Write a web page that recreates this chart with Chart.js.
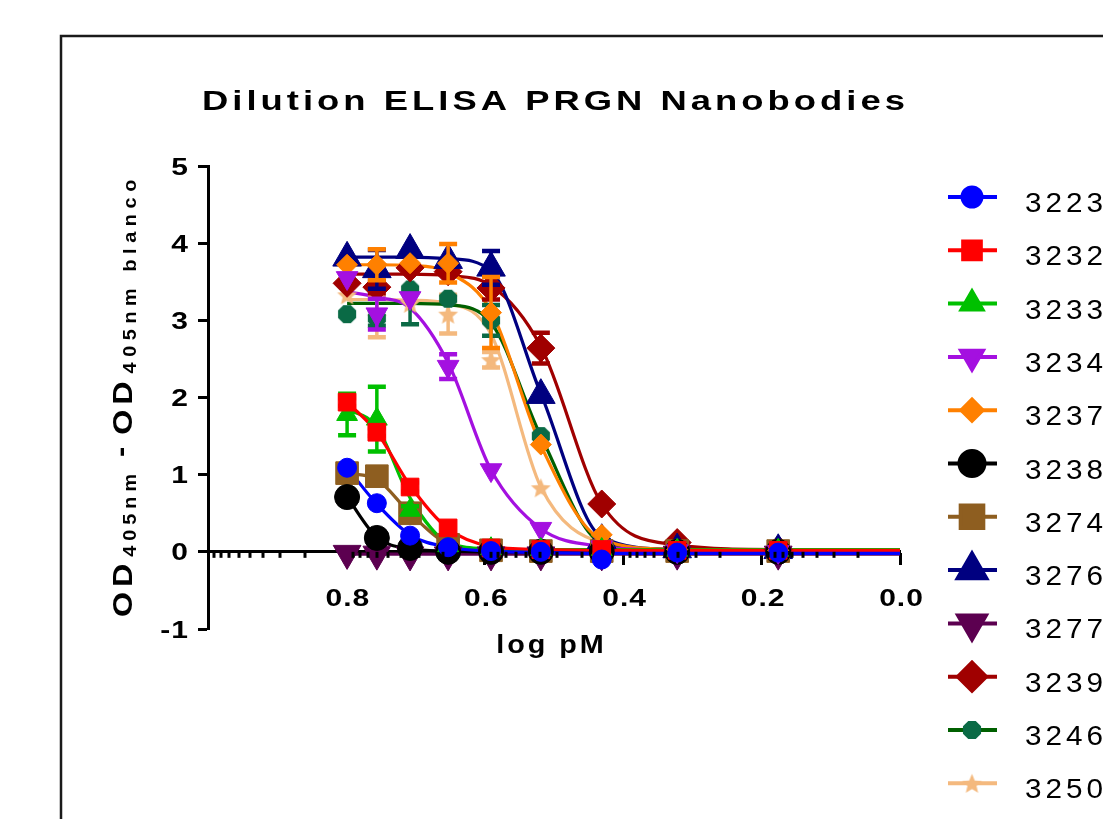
<!DOCTYPE html>
<html><head><meta charset="utf-8">
<script src="https://cdn.jsdelivr.net/npm/chart.js@4.4.0/dist/chart.umd.min.js"></script>
<style>html,body{margin:0;padding:0;background:#fff;overflow:hidden}canvas{display:block}</style>
</head><body>
<canvas id="c" width="1103" height="819"></canvas>
<script>
// ---------------- DATA ----------------
const logConc = [0.799, 0.756, 0.708, 0.653, 0.591, 0.519, 0.431, 0.322, 0.176];
const fitX    = [0.799, 0.756, 0.708, 0.653, 0.591, 0.519, 0.431, 0.322, 0.176, 0.0];
const seriesNames = ['3223','3232','3233','3234','3237','3238','3274','3276','3277','3239','3246','3250'];

const od3223 = [1.09, 0.63, 0.21, 0.06, 0.01, 0.00, -0.10, -0.01, -0.01];
const od3232 = [1.94, 1.55, 0.84, 0.31, 0.05, 0.03, 0.03, 0.02, 0.02];
const od3233 = [1.78, 1.72, 0.54, 0.08, 0.04, 0.03, 0.03, 0.02, 0.02];
const od3234 = [3.55, 3.08, 3.29, 2.40, 1.06, 0.30, 0.06, 0.01, 0.00];
const od3237 = [3.72, 3.72, 3.74, 3.74, 3.10, 1.39, 0.22, 0.03, 0.02];
const od3238 = [0.71, 0.18, 0.05, 0.00, 0.00, 0.00, 0.00, 0.00, 0.00];
const od3274 = [1.02, 0.98, 0.50, 0.09, 0.02, 0.01, 0.01, 0.01, 0.01];
const od3276 = [3.81, 3.66, 3.91, 3.78, 3.68, 2.03, 0.15, 0.03, 0.02];
const od3277 = [-0.02, -0.03, -0.04, -0.04, -0.04, -0.04, -0.04, -0.03, -0.03];
const od3239 = [3.48, 3.43, 3.68, 3.63, 3.42, 2.64, 0.62, 0.12, 0.03];
const od3246 = [3.08, 3.03, 3.40, 3.28, 3.00, 1.50, 0.05, 0.02, 0.02];
const od3250 = [3.33, 3.04, 3.22, 3.08, 2.49, 0.83, 0.06, 0.02, 0.02];

const sd3223 = [0, 0, 0, 0, 0, 0, 0, 0, 0];
const sd3232 = [0.05, 0.05, 0.06, 0, 0, 0, 0, 0, 0];
const sd3233 = [0.27, 0.42, 0.05, 0, 0, 0, 0, 0, 0];
const sd3234 = [0, 0.20, 0, 0.16, 0, 0, 0, 0, 0];
const sd3237 = [0, 0.20, 0, 0.25, 0.46, 0, 0, 0, 0];
const sd3238 = [0, 0, 0, 0, 0, 0, 0, 0, 0];
const sd3274 = [0, 0, 0, 0, 0, 0, 0, 0, 0];
const sd3276 = [0, 0.25, 0, 0, 0.22, 0, 0, 0, 0];
const sd3277 = [0, 0, 0, 0, 0, 0, 0, 0, 0];
const sd3239 = [0, 0.08, 0, 0, 0.15, 0.20, 0, 0, 0];
const sd3246 = [0, 0.10, 0.45, 0, 0.20, 0, 0, 0, 0];
const sd3250 = [0, 0.26, 0, 0.25, 0.10, 0, 0, 0, 0];

const fit3223 = [1.09, 0.62, 0.22, 0.06, 0.01, -0.01, -0.02, -0.02, -0.02, -0.02];
const fit3232 = [1.94, 1.55, 0.86, 0.30, 0.07, 0.03, 0.02, 0.02, 0.02, 0.02];
const fit3233 = [1.85, 1.62, 0.70, 0.12, 0.04, 0.03, 0.03, 0.03, 0.03, 0.03];
const fit3234 = [3.37, 3.30, 3.16, 2.45, 1.06, 0.30, 0.07, 0.02, 0.01, 0.01];
const fit3237 = [3.72, 3.72, 3.71, 3.62, 3.12, 1.38, 0.16, 0.03, 0.02, 0.02];
const fit3238 = [0.71, 0.19, 0.04, 0.01, 0.00, 0.00, 0.00, 0.00, 0.00, 0.00];
const fit3274 = [1.02, 0.94, 0.50, 0.10, 0.02, 0.01, 0.01, 0.01, 0.01, 0.01];
const fit3276 = [3.82, 3.82, 3.82, 3.80, 3.64, 2.05, 0.19, 0.03, 0.02, 0.02];
const fit3277 = [-0.03, -0.03, -0.03, -0.03, -0.03, -0.03, -0.03, -0.03, -0.03, -0.03];
const fit3239 = [3.60, 3.60, 3.60, 3.58, 3.45, 2.66, 0.62, 0.09, 0.03, 0.03];
const fit3246 = [3.22, 3.22, 3.22, 3.20, 2.97, 1.50, 0.12, 0.03, 0.02, 0.03];
const fit3250 = [3.27, 3.27, 3.26, 3.22, 2.82, 0.84, 0.12, 0.03, 0.02, 0.02];

const xMajorTicks = [1.0, 0.8, 0.6, 0.4, 0.2, 0.0];
const xTickLabels = ['', '0.8', '0.6', '0.4', '0.2', '0.0'];
const yTicks = [-1, 0, 1, 2, 3, 4, 5];
const yTickLabels = ['-1', '0', '1', '2', '3', '4', '5'];

const titleText = 'Dilution ELISA PRGN Nanobodies';
const xTitleText = 'log pM';

// ---------------- STYLES ----------------
const FONT = '"Liberation Sans", Arial, Helvetica, sans-serif';
function octagon(r, color){const c=document.createElement('canvas');const s=Math.ceil(2*r+2);c.width=c.height=s;const g=c.getContext('2d');g.fillStyle=color;g.beginPath();for(let i=0;i<8;i++){const a=Math.PI/8+i*Math.PI/4;const x=s/2+r*Math.cos(a),y=s/2+r*Math.sin(a);i?g.lineTo(x,y):g.moveTo(x,y);}g.closePath();g.fill();return c;}
function star(r, color){const c=document.createElement('canvas');const s=Math.ceil(2*r+2);c.width=c.height=s;const g=c.getContext('2d');g.fillStyle=color;g.beginPath();for(let i=0;i<10;i++){const a=-Math.PI/2+i*Math.PI/5;const rr=i%2?r*0.45:r;const x=s/2+rr*Math.cos(a),y=s/2+1+rr*Math.sin(a);i?g.lineTo(x,y):g.moveTo(x,y);}g.closePath();g.fill();return c;}

const styles = [
  {mark:'#0000FF', line:'#0000FF', shape:'circle',   rot:0,   r:9.5},
  {mark:'#FF0000', line:'#FF0000', shape:'rect',     rot:0,   r:12.5},
  {mark:'#00C000', line:'#00C000', shape:'triangle', rot:0,   r:12},
  {mark:'#A410E0', line:'#A410E0', shape:'triangle', rot:180, r:12.5},
  {mark:'#FF8000', line:'#FF8000', shape:'rectRot',  rot:0,   r:10.5},
  {mark:'#000000', line:'#000000', shape:'circle',   rot:0,   r:12.5},
  {mark:'#8E5E20', line:'#8E5E20', shape:'rect',     rot:0,   r:16},
  {mark:'#000080', line:'#000080', shape:'triangle', rot:0,   r:16.5},
  {mark:'#5C0050', line:'#5C0050', shape:'triangle', rot:180, r:16},
  {mark:'#A00000', line:'#A00000', shape:'rectRot',  rot:0,   r:14},
  {mark:'#0A6A45', line:'#006000', shape:'octagon',  rot:0,   r:9.8},
  {mark:'#F4B97E', line:'#F4B97E', shape:'star',     rot:0,   r:10.5}
];
styles.forEach(s=>{ if(s.shape==='octagon') s.shape=octagon(s.r,s.mark); else if(s.shape==='star') s.shape=star(s.r,s.mark); });

const odList  = [od3223,od3232,od3233,od3234,od3237,od3238,od3274,od3276,od3277,od3239,od3246,od3250];
const sdList  = [sd3223,sd3232,sd3233,sd3234,sd3237,sd3238,sd3274,sd3276,sd3277,sd3239,sd3246,sd3250];
const fitList = [fit3223,fit3232,fit3233,fit3234,fit3237,fit3238,fit3274,fit3276,fit3277,fit3239,fit3246,fit3250];

const datasets = [];
seriesNames.forEach((n,i)=>{
  const st = styles[i];
  datasets.push({
    label: n, type:'scatter', showLine:false,
    data: logConc.map((x,k)=>({x, y: odList[i][k]})),
    errors: sdList[i], errColor: st.mark,
    pointStyle: st.shape, rotation: st.rot, pointRotation: st.rot, pointRadius: st.r, pointHoverRadius: st.r,
    pointBackgroundColor: st.mark, pointBorderColor: st.mark, pointBorderWidth: 1,
    borderColor: st.mark, backgroundColor: st.mark
  });
});
seriesNames.forEach((n,i)=>{
  const st = styles[i];
  datasets.push({
    label: n+' fit', type:'line',
    data: fitX.map((x,k)=>({x, y: fitList[i][k]})),
    borderColor: st.line, borderWidth: 3.2, pointRadius: 0, fill:false,
    cubicInterpolationMode:'monotone'
  });
});

// ---------------- helpers ----------------
// draw text with letter spacing sp (screen px) and horizontal stretch sx; align 'left'|'center'|'right'
function textWidth(ctx, txt, sp, sx){let w=0;for(const ch of txt) w+=ctx.measureText(ch).width;return w*sx+sp*(txt.length-1);}
function drawText(ctx, txt, x, y, sp, sx, align){
  const w=textWidth(ctx,txt,sp,sx);
  let x0 = align==='center'? x-w/2 : align==='right'? x-w : x;
  ctx.save(); ctx.textAlign='left';
  for(const ch of txt){
    ctx.save(); ctx.translate(x0,y); ctx.scale(sx,1); ctx.fillText(ch,0,0); ctx.restore();
    x0 += ctx.measureText(ch).width*sx + sp;
  }
  ctx.restore();
  return x0;
}

const minorOffsets = [0.0092, 0.0194, 0.0310, 0.0444, 0.0602, 0.0796, 0.1046, 0.1398];

const framePlugin = {
  id:'frame',
  beforeDraw(chart){
    const ctx=chart.ctx; ctx.save();
    ctx.fillStyle='#fff'; ctx.fillRect(0,0,chart.width,chart.height);
    ctx.strokeStyle='#1a1a1a'; ctx.lineWidth=2.5; ctx.strokeRect(61,36,3000,3000);
    ctx.restore();
  }
};

const errorPlugin = {
  id:'errbars',
  beforeDatasetDraw(chart, args){
    const ds = chart.data.datasets[args.index];
    if(!ds.errors) return;
    const ctx=chart.ctx, xs=chart.scales.x, ys=chart.scales.y;
    ctx.save(); ctx.strokeStyle=ds.errColor;
    ds.data.forEach((p,i)=>{
      const e=ds.errors[i]; if(!e) return;
      const px=xs.getPixelForValue(p.x), t=ys.getPixelForValue(p.y+e), b=ys.getPixelForValue(p.y-e);
      ctx.lineWidth=3.5; ctx.beginPath(); ctx.moveTo(px,t); ctx.lineTo(px,b); ctx.stroke();
      ctx.lineWidth=4.5; ctx.beginPath(); ctx.moveTo(px-9,t); ctx.lineTo(px+9,t); ctx.moveTo(px-9,b); ctx.lineTo(px+9,b); ctx.stroke();
    });
    ctx.restore();
  }
};

const textPlugin = {
  id:'texts',
  afterDraw(chart){
    const ctx=chart.ctx, xs=chart.scales.x, ys=chart.scales.y;
    ctx.save();
    ctx.textBaseline='alphabetic';
    // minor ticks on x axis
    const y0 = ys.getPixelForValue(0);
    ctx.fillStyle='#000';
    xMajorTicks.forEach(M=>{ if(M<=0) return; minorOffsets.forEach(o=>{
      const px = xs.getPixelForValue(M-o); ctx.fillRect(Math.round(px)-1.5, y0, 3, 6);
    });});
    // tick labels
    ctx.font='bold 24px '+FONT;
    xMajorTicks.forEach((v,i)=>{ if(!xTickLabels[i]) return;
      drawText(ctx, xTickLabels[i], xs.getPixelForValue(v)+1, y0+54, 1, 1.25, 'center'); });
    yTicks.forEach((v,i)=>{
      drawText(ctx, yTickLabels[i], xs.left-20, ys.getPixelForValue(v)+8.5, 1, 1.25, 'right'); });
    // title
    ctx.font='bold 28px '+FONT;
    const tn=textWidth(ctx,titleText,0,1.3);
    drawText(ctx,titleText,202,110,(703-tn)/(titleText.length-1),1.3,'left');
    // x title
    ctx.font='bold 25px '+FONT;
    drawText(ctx,xTitleText,550,653,3,1.15,'center');
    // y title (rotated)
    ctx.save();
    ctx.translate(132,617); ctx.rotate(-Math.PI/2);
    const fMain='bold 28px '+FONT, fSub='bold 18px '+FONT;
    let cx=0;
    ctx.font=fMain; cx=drawText(ctx,'OD',cx,0,5,1.15,'left')+2;
    ctx.font=fSub;  cx=drawText(ctx,'405nm',cx,4,5,1.1,'left')+12;
    ctx.font=fMain; cx=drawText(ctx,'-',cx,-2,0,1.1,'left')+12;
    ctx.font=fMain; cx=drawText(ctx,'OD',cx,0,5,1.15,'left')+3;
    ctx.font=fSub;  cx=drawText(ctx,'405nm blanco',cx,4,5.6,1.1,'left');
    ctx.restore();
    // legend
    seriesNames.forEach((n,i)=>{
      const st=styles[i]; const ry=197+i*53.3;
      ctx.strokeStyle=st.line; ctx.lineWidth=4; ctx.beginPath(); ctx.moveTo(948,ry); ctx.lineTo(997,ry); ctx.stroke();
      ctx.fillStyle=st.mark; ctx.strokeStyle=st.mark;
      Chart.helpers.drawPoint(ctx,{pointStyle:st.shape,rotation:st.rot,radius:st.r,borderWidth:1},972,ry);
      ctx.fillStyle='#000'; ctx.font='27px '+FONT;
      drawText(ctx,n,1025,ry+15,4,1.1,'left');
    });
    ctx.restore();
  }
};

new Chart(document.getElementById('c'), {
  type:'scatter',
  data:{datasets},
  options:{
    responsive:false, animation:false, devicePixelRatio:1,
    layout:{padding:{left:108,right:203,top:166,bottom:190}},
    plugins:{legend:{display:false},tooltip:{enabled:false},title:{display:false}},
    scales:{
      x:{type:'linear', min:0, max:1, reverse:true, position:{y:0},
        afterBuildTicks:s=>{s.ticks=xMajorTicks.map(v=>({value:v}));},
        ticks:{display:false},
        grid:{drawOnChartArea:false, drawTicks:true, tickLength:12, tickWidth:3, tickColor:'#000'},
        border:{display:true,color:'#000',width:3}
      },
      y:{type:'linear', min:-1, max:5, position:'left',
        afterBuildTicks:s=>{s.ticks=yTicks.map(v=>({value:v}));},
        afterFit:s=>{s.width=100;},
        ticks:{display:false},
        grid:{drawOnChartArea:false, drawTicks:true, tickLength:10, tickWidth:3, tickColor:'#000'},
        border:{display:true,color:'#000',width:3}
      }
    }
  },
  plugins:[framePlugin, errorPlugin, textPlugin]
});
</script>
</body></html>
